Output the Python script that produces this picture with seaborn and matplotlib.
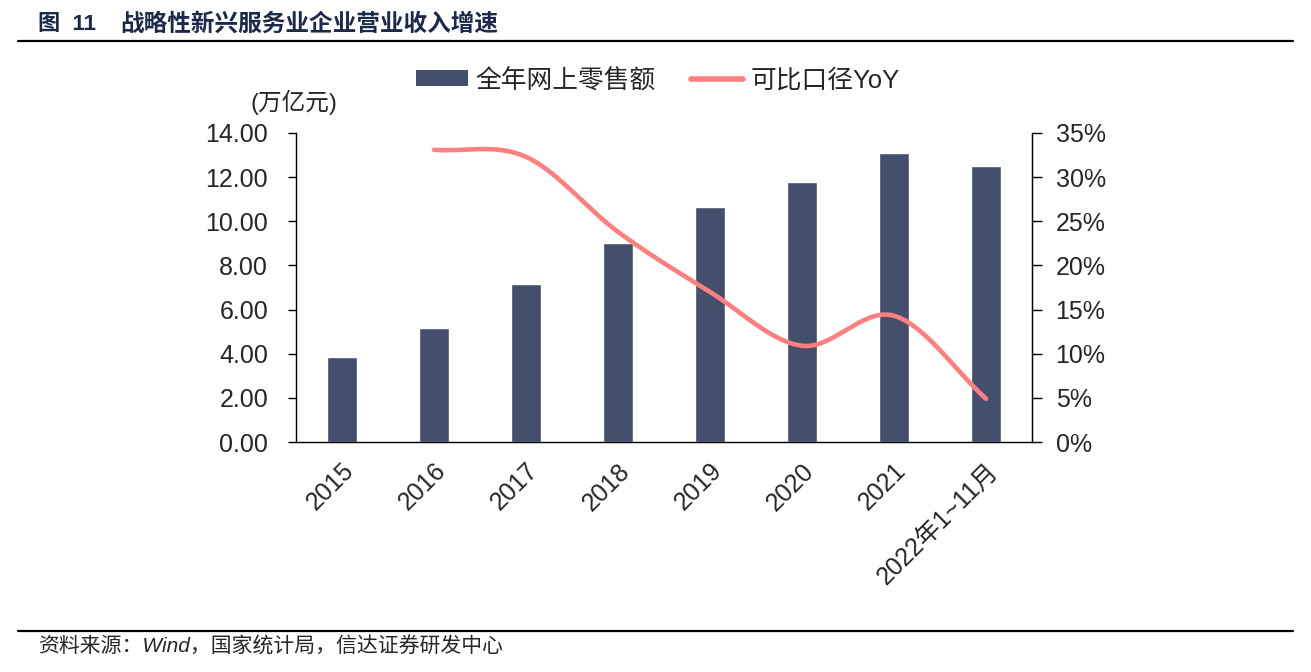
import numpy as np
import pandas as pd
import matplotlib
matplotlib.use("Agg")
import matplotlib.pyplot as plt
import seaborn as sns
from matplotlib.patches import Patch
from matplotlib.lines import Line2D

# data
years = ["2015", "2016", "2017", "2018", "2019", "2020", "2021", "2022年1~11月"]
online_sales = [3.85, 5.17, 7.16, 9.02, 10.65, 11.78, 13.09, 12.50]  # 万亿元
yoy_years = ["2016", "2017", "2018", "2019", "2020", "2021", "2022年1~11月"]
yoy_pct = [33.1, 32.3, 23.8, 17.0, 10.9, 14.3, 4.9]

bar_color = "#444F6E"
line_color = "#FF7F7F"

sns.set_style("white")
plt.rcParams['font.family'] = ['Liberation Sans', 'Noto Sans CJK SC', 'DejaVu Sans']
plt.rcParams['axes.unicode_minus'] = False

df = pd.DataFrame({"year": years, "sales": online_sales})

fig = plt.figure(figsize=(13.11, 6.72), dpi=100)
ax = fig.add_axes([296 / 1311, 1 - 442 / 672, (1032 - 296) / 1311, (442 - 133) / 672])

sns.barplot(data=df, x="year", y="sales", color=bar_color, width=0.33,
            saturation=1, ax=ax)
ax.set_xlim(-0.5, len(years) - 0.5)
ax.set_ylim(0, 14)
ax.set_yticks(np.arange(0, 14.1, 2))
ax.set_yticklabels([f"{v:.2f}" for v in np.arange(0, 14.1, 2)], fontsize=18)
ax.set_xlabel("")
ax.set_ylabel("")
ax.set_xticks(range(len(years)))
ax.set_xticklabels(years, rotation=45, ha="right", rotation_mode="anchor", fontsize=18)
ax.set_xticks(np.arange(-0.5, len(years), 1), minor=True)
ax.tick_params(axis="x", which="major", length=0, pad=12)
ax.tick_params(axis="x", which="minor", length=6, width=1, direction="out", color="black")
ax.tick_params(axis="y", length=6, width=1, direction="out", color="black", left=True, pad=14)
for s in ["left", "bottom", "right"]:
    ax.spines[s].set_color("black")
    ax.spines[s].set_linewidth(1)
ax.spines["top"].set_visible(False)

# YoY line on right axis, smoothed like the original chart
ax2 = ax.twinx()
xs = np.array([years.index(y) for y in yoy_years], dtype=float)
ys = np.array(yoy_pct)
px = np.concatenate([[2 * xs[0] - xs[1]], xs, [2 * xs[-1] - xs[-2]]])
py = np.concatenate([[2 * ys[0] - ys[1]], ys, [2 * ys[-1] - ys[-2]]])
cx, cy = [], []
t = np.linspace(0, 1, 30)
for i in range(1, len(px) - 2):
    for arr, out in ((px, cx), (py, cy)):
        p0, p1, p2, p3 = arr[i - 1], arr[i], arr[i + 1], arr[i + 2]
        out.extend(0.5 * ((2 * p1) + (-p0 + p2) * t + (2 * p0 - 5 * p1 + 4 * p2 - p3) * t ** 2
                          + (-p0 + 3 * p1 - 3 * p2 + p3) * t ** 3))
sns.lineplot(x=cx, y=cy, color=line_color, linewidth=3.3, sort=False, ax=ax2)
ax2.set_ylim(0, 35)
ax2.set_yticks(np.arange(0, 36, 5))
ax2.set_yticklabels([f"{v}%" for v in range(0, 36, 5)], fontsize=18)
ax2.tick_params(axis="y", length=7, width=1, direction="out", color="black", right=True, pad=10)
ax2.spines["top"].set_visible(False)
ax2.spines["right"].set_color("black")
ax2.spines["left"].set_visible(False)
ax2.spines["bottom"].set_visible(False)
ax2.set_xlim(-0.5, len(years) - 0.5)

fig.text(250 / 1311, 1 - 102 / 672, "(万亿元)", fontsize=17, va="center")

handles = [Patch(facecolor=bar_color, edgecolor="none"),
           Line2D([0], [0], color=line_color, linewidth=4)]
fig.legend(handles, ["全年网上零售额", "可比口径YoY"], loc="center",
           bbox_to_anchor=(658 / 1311, 1 - 80 / 672), ncol=2, frameon=False,
           fontsize=18.5, handlelength=2.0, handleheight=0.6, columnspacing=1.4,
           handletextpad=0.3)

# header and footer
fig.text(38 / 1311, 1 - 24 / 672, "图  11", fontsize=16,
         fontweight="bold", color="#1B2A4A", va="center")
fig.text(120 / 1311, 1 - 24 / 672, "战略性新兴服务业企业营业收入增速", fontsize=17,
         fontweight="bold", color="#1B2A4A", va="center")
fig.add_artist(Line2D([18 / 1311, 1293 / 1311], [1 - 41 / 672] * 2, color="black", linewidth=1.6))
fig.add_artist(Line2D([18 / 1311, 1293 / 1311], [1 - 631 / 672] * 2, color="black", linewidth=1.6))
fig.text(38 / 1311, 1 - 647 / 672, "资料来源：Wind，国家统计局，信达证券研发中心", fontsize=15,
         style="italic", va="center")

fig.savefig("out.png", dpi=100)
